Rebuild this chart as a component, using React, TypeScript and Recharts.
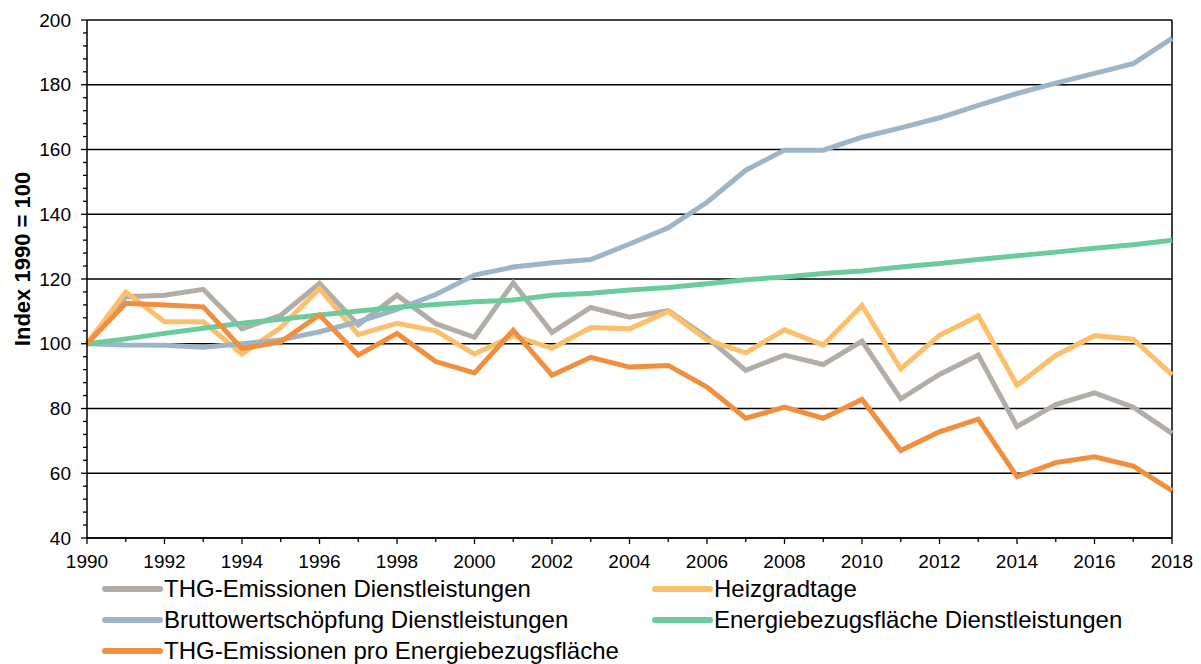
import React from 'react';
import { LineChart, Line, XAxis, YAxis, CartesianGrid, ReferenceLine, Legend } from 'recharts';

const years = [1990, 1991, 1992, 1993, 1994, 1995, 1996, 1997, 1998, 1999, 2000, 2001, 2002, 2003, 2004, 2005, 2006, 2007, 2008, 2009, 2010, 2011, 2012, 2013, 2014, 2015, 2016, 2017, 2018];

const thgDienst = [100, 114.5, 115, 116.8, 104.6, 108.8, 118.6, 105.8, 115, 106.2, 102, 118.8, 103.5, 111.2, 108.2, 110.2, 102, 91.8, 96.5, 93.6, 100.8, 83, 90.5, 96.5, 74.4, 81.2, 84.8, 80.4, 72.3];
const heizgradtage = [100, 116, 106.8, 106.8, 96.8, 105, 117, 102.8, 106.3, 104, 96.8, 102.5, 98.6, 105, 104.6, 110, 101.2, 97.2, 104.3, 99.6, 111.8, 92.2, 102.6, 108.6, 87.2, 96.4, 102.5, 101.4, 90.4];
const bruttowert = [100, 99.6, 99.5, 98.9, 100, 101.2, 103.7, 106.8, 110.6, 115.2, 121.2, 123.7, 125, 126, 130.8, 135.8, 143.7, 153.6, 159.8, 159.8, 163.8, 166.7, 169.8, 173.6, 177.3, 180.5, 183.5, 186.5, 194.3];
const energiebezug = [100, 101.5, 103.2, 104.8, 106.3, 107.6, 108.9, 110.1, 111.3, 112.1, 113, 113.5, 115, 115.6, 116.6, 117.4, 118.5, 119.8, 120.6, 121.7, 122.5, 123.7, 124.8, 126, 127.2, 128.3, 129.5, 130.6, 132];
const thgProEbf = [100, 112.5, 112, 111.4, 98.5, 100.6, 108.9, 96.5, 103.2, 94.5, 91, 104.2, 90.3, 95.8, 92.8, 93.3, 86.6, 77, 80.4, 77, 82.8, 67, 72.8, 76.7, 58.9, 63.3, 65.1, 62.2, 54.6];

const yMajorTicks = [40, 60, 80, 100, 120, 140, 160, 180, 200];
const yMinorTicks = [40, 44, 48, 52, 56, 60, 64, 68, 72, 76, 80, 84, 88, 92, 96, 100, 104, 108, 112, 116, 120, 124, 128, 132, 136, 140, 144, 148, 152, 156, 160, 164, 168, 172, 176, 180, 184, 188, 192, 196, 200];

const seriesKeys = ['thg', 'heiz', 'brutto', 'ebf', 'thgEbf'];

const seriesNames: Record<string, string> = {
  thg: 'THG-Emissionen Dienstleistungen',
  heiz: 'Heizgradtage',
  brutto: 'Bruttowertschöpfung Dienstleistungen',
  ebf: 'Energiebezugsfläche Dienstleistungen',
  thgEbf: 'THG-Emissionen pro Energiebezugsfläche',
};

const colors: Record<string, string> = {
  thg: '#B3ADA8',
  heiz: '#FAC06C',
  brutto: '#9EB5C7',
  ebf: '#6CCB9D',
  thgEbf: '#F28F3F',
};

const data = years.map((year, i) => ({
  year,
  thg: thgDienst[i],
  heiz: heizgradtage[i],
  brutto: bruttowert[i],
  ebf: energiebezug[i],
  thgEbf: thgProEbf[i],
}));

const FONT = '"Liberation Sans", Arial, sans-serif';

const XTick = (props: any) => {
  const { x, y, payload } = props;
  const major = payload.value % 2 === 0;
  return (
    <g>
      <line x1={x} x2={x} y1={y} y2={y + (major ? 6 : 4)} stroke="#000" strokeWidth={1.3} />
      {major && (
        <text x={x} y={y + 17} dy="0.71em" textAnchor="middle" fontSize={19} fill="#000" fontFamily={FONT}>
          {payload.value}
        </text>
      )}
    </g>
  );
};

const YTick = (props: any) => {
  const { x, y, payload } = props;
  const major = yMajorTicks.includes(payload.value);
  return (
    <g>
      <line x1={x - (major ? 6 : 4)} x2={x} y1={y} y2={y} stroke="#000" strokeWidth={1.3} />
      {major && (
        <text x={x - 16} y={y} dy="0.355em" textAnchor="end" fontSize={19} fill="#000" fontFamily={FONT}>
          {payload.value}
        </text>
      )}
    </g>
  );
};

const YLabel = (props: any) => {
  const { viewBox } = props;
  const cx = viewBox.x + 22;
  const cy = viewBox.y + viewBox.height / 2 - 20;
  return (
    <text x={cx} y={cy} transform={`rotate(-90 ${cx} ${cy})`} textAnchor="middle" dy="0.355em" fontSize={22} fontWeight="bold" fill="#000" fontFamily={FONT}>
      Index 1990 = 100
    </text>
  );
};

const LegendContent = (props: any) => {
  const { payload = [] } = props;
  const colLeft = [102, 652];
  const ordered = seriesKeys
    .map((k) => payload.find((p: any) => p.dataKey === k))
    .filter(Boolean);
  return (
    <div style={{ position: 'relative', width: 1201, height: 92, fontFamily: FONT }}>
      {ordered.map((item: any, i: number) => {
        const col = i % 2;
        const row = Math.floor(i / 2);
        return (
          <div
            key={item.value}
            style={{
              position: 'absolute',
              left: colLeft[col],
              top: row * 30.8,
              height: 30,
              display: 'flex',
              alignItems: 'center',
              whiteSpace: 'nowrap',
            }}
          >
            <svg width={61} height={10} style={{ display: 'block' }}>
              <line x1={3} x2={58} y1={5} y2={5} stroke={item.color} strokeWidth={6} strokeLinecap="round" />
            </svg>
            <span style={{ fontSize: 24, color: '#000', marginLeft: 1, lineHeight: '30px' }}>{item.value}</span>
          </div>
        );
      })}
    </div>
  );
};

export default function App() {
  return (
    <div style={{ position: 'absolute', left: 0, top: 0, width: 1201, height: 664, background: '#fff', fontFamily: FONT }}>
      <LineChart width={1201} height={664} data={data} margin={{ top: 20, right: 29, left: 0, bottom: 4 }}>
        <CartesianGrid horizontalValues={yMajorTicks} vertical={false} stroke="#000" strokeWidth={1.3} />
        <XAxis
          dataKey="year"
          type="number"
          domain={[1990, 2018]}
          ticks={years}
          interval={0}
          tickSize={0}
          tickMargin={0}
          tickLine={false}
          axisLine={{ stroke: '#000', strokeWidth: 1.5 }}
          tick={<XTick />}
          height={30}
        />
        <YAxis
          type="number"
          domain={[40, 200]}
          ticks={yMinorTicks}
          interval={0}
          tickSize={0}
          tickMargin={0}
          tickLine={false}
          axisLine={{ stroke: '#000', strokeWidth: 1.5 }}
          tick={<YTick />}
          width={87}
          label={<YLabel />}
        />
        <ReferenceLine x={2018} stroke="#000" strokeWidth={1.5} />
        {seriesKeys.map((k) => (
          <Line
            key={k}
            type="linear"
            dataKey={k}
            name={seriesNames[k]}
            stroke={colors[k]}
            strokeWidth={5}
            dot={false}
            isAnimationActive={false}
          />
        ))}
        <Legend
          verticalAlign="bottom"
          itemSorter={null as any}
          content={<LegendContent />}
          wrapperStyle={{ position: 'absolute', left: 0, top: 574, width: 1201, height: 92 }}
        />
      </LineChart>
    </div>
  );
}
